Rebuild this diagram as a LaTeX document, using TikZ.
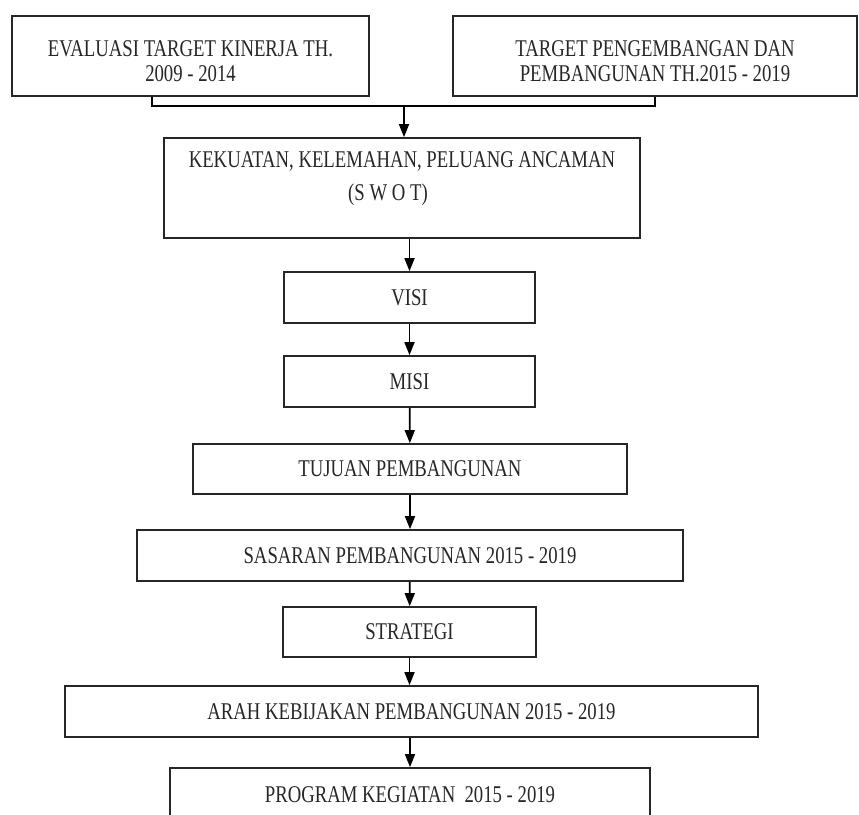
\documentclass[tikz,border=0pt]{standalone}
\usepackage{fontspec}
\usepackage{graphicx}
\setmainfont{Liberation Serif}
\usetikzlibrary{arrows.meta}
\newcommand{\sq}[1]{\scalebox{0.78}[1]{#1}}

\begin{document}
\begin{tikzpicture}
  [x=1pt,y=-1pt,
   every node/.style={rectangle,inner sep=0pt,text=black!85,
     font=\fontsize{24}{25}\selectfont},
   box/.style={draw=black!85,line width=1.7pt},
   arr/.style={line width=1.7pt,draw=black,-{Triangle[length=13pt,width=10pt]}}]
  \clip (0,0) rectangle (859,814);

  \node[box,minimum width=357,minimum height=80] (eval) at (190.5,56) {};
  \node[align=center] (evaltext) at (190.5,61)
    {\sq{EVALUASI TARGET KINERJA TH.}\\[0pt]\sq{2009 - 2014}};
  \node[box,minimum width=404,minimum height=80] (target) at (655,56) {};
  \node[align=center] (targettext) at (655,61)
    {\sq{TARGET PENGEMBANGAN DAN}\\[0pt]\sq{PEMBANGUNAN TH.2015 - 2019}};
  \node[box,minimum width=476,minimum height=100] (swot) at (402,188) {};
  \node[align=center] (swottext) at (402,179)
    {\sq{KEKUATAN, KELEMAHAN, PELUANG ANCAMAN}\\[8pt]\sq{(S W O T)}\hspace*{28pt}};
  \node[box,minimum width=251,minimum height=51] (visi) at (409.5,297.5) {\sq{VISI}};
  \node[box,minimum width=251,minimum height=51] (misi) at (409.5,381.5) {\sq{MISI}};
  \node[box,minimum width=434,minimum height=50] (tujuan) at (410,469) {\sq{TUJUAN PEMBANGUNAN}};
  \node[box,minimum width=546,minimum height=51] (sasaran) at (410,555.5) {\sq{SASARAN PEMBANGUNAN 2015 - 2019}};
  \node[box,minimum width=253,minimum height=50] (strategi) at (409.5,632) {\sq{STRATEGI}};
  \node[box,minimum width=693,minimum height=51] (arah) at (411.5,711.5) {\sq{ARAH KEBIJAKAN PEMBANGUNAN 2015 - 2019}};
  \node[box,minimum width=480,minimum height=54] (program) at (410,795) {\sq{PROGRAM KEGIATAN\ \ 2015 - 2019}};

  % gabungan dua kotak atas
  \coordinate (join) at (404,106);
  \draw[line width=1.7pt] ([xshift=-38.5pt]eval.south) |- (join) -| (target.south);
  \draw[arr] (join) -- (swot.north -| join);

  \draw[arr] (swot.south -| visi) -- (visi);
  \draw[arr] (visi) -- (misi);
  \draw[arr] (misi) -- (tujuan);
  \draw[arr] (tujuan) -- (sasaran);
  \draw[arr] (sasaran) -- (strategi);
  \draw[arr] (strategi.south) -- (strategi.south |- arah.north);
  \draw[arr] (arah.south -| program) -- (program);
\end{tikzpicture}
\end{document}
